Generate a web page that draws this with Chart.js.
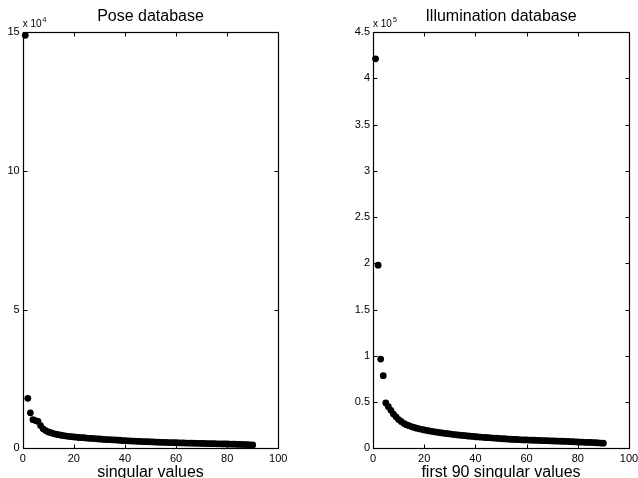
<!DOCTYPE html>
<html>
<head>
<meta charset="utf-8">
<script src="https://cdn.jsdelivr.net/npm/chart.js@4/dist/chart.umd.min.js"></script>
<style>
  html, body { margin: 0; padding: 0; background: #fff; }
  #wrap { position: relative; width: 638px; height: 478px; overflow: hidden; }
  canvas { position: absolute; top: 0; }
  #pose { left: 0; }
  #illum { left: 319px; }
</style>
</head>
<body>
<div id="wrap">
  <canvas id="pose" width="319" height="478"></canvas>
  <canvas id="illum" width="330" height="478"></canvas>
</div>
<script>
const xTicks = [0, 20, 40, 60, 80, 100];
const poseTicks = [0, 5, 10, 15];                          // x 10^4
const illumTicks = [0, 0.5, 1, 1.5, 2, 2.5, 3, 3.5, 4, 4.5]; // x 10^5

// singular values, pose database (x 10^4), index 1..90
const poseValues = [
  14.88, 1.80, 1.28, 1.03, 1.00, 0.97, 0.82, 0.70, 0.64, 0.59,
  0.56, 0.53, 0.51, 0.49, 0.47, 0.46, 0.44, 0.43, 0.42, 0.41,
  0.40, 0.39, 0.385, 0.38, 0.37, 0.36, 0.355, 0.35, 0.34, 0.335,
  0.33, 0.32, 0.315, 0.31, 0.305, 0.30, 0.295, 0.29, 0.28, 0.275,
  0.27, 0.265, 0.26, 0.255, 0.25, 0.247, 0.243, 0.24, 0.236, 0.232,
  0.228, 0.224, 0.22, 0.217, 0.214, 0.211, 0.208, 0.205, 0.202, 0.20,
  0.198, 0.195, 0.193, 0.19, 0.188, 0.185, 0.183, 0.18, 0.178, 0.176,
  0.174, 0.171, 0.169, 0.167, 0.165, 0.163, 0.161, 0.159, 0.157, 0.155,
  0.152, 0.15, 0.147, 0.144, 0.141, 0.138, 0.135, 0.131, 0.127, 0.122
];

// first 90 singular values, illumination database (x 10^5)
const illumValues = [
  4.21, 1.98, 0.965, 0.785, 0.49, 0.45, 0.41, 0.37, 0.34, 0.31,
  0.29, 0.27, 0.255, 0.245, 0.235, 0.226, 0.218, 0.211, 0.205, 0.199,
  0.193, 0.188, 0.183, 0.178, 0.174, 0.170, 0.166, 0.162, 0.158, 0.155,
  0.151, 0.148, 0.145, 0.142, 0.139, 0.136, 0.133, 0.131, 0.128, 0.125,
  0.123, 0.121, 0.119, 0.117, 0.115, 0.113, 0.111, 0.109, 0.107, 0.105,
  0.103, 0.101, 0.099, 0.098, 0.096, 0.095, 0.094, 0.092, 0.091, 0.09,
  0.089, 0.088, 0.087, 0.086, 0.085, 0.084, 0.083, 0.082, 0.081, 0.080,
  0.079, 0.078, 0.077, 0.076, 0.075, 0.074, 0.072, 0.071, 0.070, 0.068,
  0.067, 0.066, 0.065, 0.064, 0.063, 0.062, 0.060, 0.059, 0.057, 0.055
];

const FONT = 'Arial, "Liberation Sans", Helvetica, sans-serif';

// matlab style box, inward ticks, title, xlabel and exponent
const matlabAxes = {
  id: 'matlabAxes',
  afterDraw(chart, args, opts) {
    const { ctx, chartArea: a, scales } = chart;
    const L = Math.round(a.left) + 0.5, R = Math.round(a.right) + 0.5;
    const T = Math.round(a.top) + 0.5, B = Math.round(a.bottom) + 0.5;
    const tl = 4;
    ctx.save();
    ctx.strokeStyle = '#000';
    ctx.lineWidth = 1;
    ctx.beginPath();
    scales.x.ticks.forEach(t => {
      const px = Math.round(scales.x.getPixelForValue(t.value)) + 0.5;
      ctx.moveTo(px, B); ctx.lineTo(px, B - tl);
      ctx.moveTo(px, T); ctx.lineTo(px, T + tl);
    });
    scales.y.ticks.forEach(t => {
      const py = Math.round(scales.y.getPixelForValue(t.value)) + 0.5;
      ctx.moveTo(L, py); ctx.lineTo(L + tl, py);
      ctx.moveTo(R, py); ctx.lineTo(R - tl, py);
    });
    ctx.stroke();
    ctx.lineWidth = 1.2;
    ctx.strokeRect(L, T, R - L, B - T);

    ctx.fillStyle = '#000';
    ctx.textAlign = 'center';
    ctx.textBaseline = 'alphabetic';
    ctx.font = '16px ' + FONT;
    const cx = (a.left + a.right) / 2;
    ctx.fillText(opts.title, cx, 21);
    ctx.fillText(opts.xlabel, cx, 477);

    ctx.textAlign = 'left';
    ctx.font = '10px ' + FONT;
    ctx.fillText('x 10', a.left, 27);
    const w = ctx.measureText('x 10').width;
    ctx.font = '7px ' + FONT;
    ctx.fillText(opts.exponent, a.left + w + 1, 22);
    ctx.restore();
  }
};

function toPoints(values) {
  return values.map((v, i) => ({ x: i + 1, y: v }));
}

function makeChart(id, values, yTicks, yWidth, padding, labels) {
  return new Chart(document.getElementById(id), {
    type: 'scatter',
    data: {
      datasets: [{
        data: toPoints(values),
        backgroundColor: '#000',
        borderWidth: 0,
        pointRadius: 3.4,
        clip: false
      }]
    },
    options: {
      responsive: false,
      animation: false,
      layout: { padding: padding },
      plugins: {
        legend: { display: false },
        tooltip: { enabled: false },
        matlabAxes: labels
      },
      scales: {
        x: {
          type: 'linear',
          min: xTicks[0],
          max: xTicks[xTicks.length - 1],
          afterBuildTicks: s => { s.ticks = xTicks.map(v => ({ value: v })); },
          afterFit: s => { s.height = 29.7; },
          grid: { display: false, drawTicks: false },
          border: { display: false },
          ticks: {
            padding: 4,
            maxRotation: 0,
            color: '#000',
            font: { family: FONT, size: 11 },
            callback: v => String(v)
          }
        },
        y: {
          type: 'linear',
          min: yTicks[0],
          max: yTicks[yTicks.length - 1],
          afterBuildTicks: s => { s.ticks = yTicks.map(v => ({ value: v })); },
          afterFit: s => { s.width = yWidth; },
          grid: { display: false, drawTicks: false },
          border: { display: false },
          ticks: {
            padding: 3,
            color: '#000',
            font: { family: FONT, size: 11 },
            callback: v => String(v)
          }
        }
      }
    },
    plugins: [matlabAxes]
  });
}

makeChart('pose', poseValues, poseTicks, 22.7,
  { top: 32, right: 40.7, bottom: 0, left: 0 },
  { title: 'Pose database', xlabel: 'singular values', exponent: '4' });

makeChart('illum', illumValues, illumTicks, 54,
  { top: 32, right: 20, bottom: 0, left: 0 },
  { title: 'Illumination database', xlabel: 'first 90 singular values', exponent: '5' });
</script>
</body>
</html>
